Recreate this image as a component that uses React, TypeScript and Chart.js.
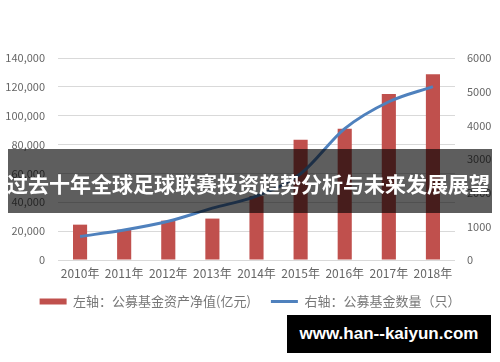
import React, { useEffect, useRef } from "react";
import { Chart, registerables } from "chart.js";

Chart.register(...registerables);

const categories = ["2010年", "2011年", "2012年", "2013年", "2014年", "2015年", "2016年", "2017年", "2018年"];
const assetValues = [24500, 21000, 27300, 28700, 44300, 83300, 91000, 115000, 128800];
const fundCounts = [700, 890, 1150, 1540, 1900, 2560, 3900, 4700, 5150];
const barLabel = "左轴：公募基金资产净值(亿元)";
const lineLabel = "右轴：公募基金数量（只）";
const bannerText = "过去十年全球足球联赛投资趋势分析与未来发展展望";
const watermarkText = "www.han--kaiyun.com";

const FONT = "'Noto Sans CJK SC', 'Noto Sans', sans-serif";

export default function App() {
  const ref = useRef<HTMLCanvasElement | null>(null);

  useEffect(() => {
    if (!ref.current) return;
    const chart = new Chart(ref.current, {
      type: "bar",
      data: {
        labels: categories,
        datasets: [
          {
            type: "bar",
            label: barLabel,
            data: assetValues,
            backgroundColor: "#C0504D",
            borderWidth: 0,
            yAxisID: "y",
            order: 1,
            barPercentage: 0.32,
            categoryPercentage: 1,
          },
          {
            type: "line",
            label: lineLabel,
            data: fundCounts,
            borderColor: "#4F81BD",
            backgroundColor: "#4F81BD",
            borderWidth: 3,
            pointRadius: 0,
            tension: 0.4,
            cubicInterpolationMode: "monotone",
            yAxisID: "y1",
            order: 0,
          } as any,
        ],
      },
      options: {
        responsive: false,
        animation: false,
        devicePixelRatio: 1,
        layout: { padding: { top: 58, left: 0, right: 0, bottom: 44 } },
        scales: {
          x: {
            grid: { display: false, drawTicks: false },
            border: { display: false },
            ticks: { color: "#666", font: { family: FONT, size: 12 }, padding: 6, maxRotation: 0 },
            afterFit: (s: any) => {
              s.height = 15;
              s._computeLabelArea = () => undefined;
            },
          },
          y: {
            position: "left",
            min: 0,
            max: 140000,
            grid: { color: "#d9d9d9", lineWidth: 1, drawTicks: false },
            border: { display: false },
            ticks: {
              stepSize: 20000,
              color: "#666",
              font: { family: FONT, size: 11 },
              padding: 13,
              callback: (v: any) => Number(v).toLocaleString("en-US"),
            },
            afterFit: (s: any) => { s.width = 58; },
          },
          y1: {
            position: "right",
            min: 0,
            max: 6000,
            grid: { display: false, drawTicks: false },
            border: { display: false },
            ticks: {
              stepSize: 1000,
              color: "#666",
              font: { family: FONT, size: 11 },
              padding: 12,
              callback: (v: any) => String(v),
            },
            afterFit: (s: any) => { s.width = 45; },
          },
        },
        plugins: {
          title: { display: false },
          tooltip: { enabled: false },
          legend: {
            position: "bottom",
            labels: {
              usePointStyle: true,
              pointStyleWidth: 27,
              boxHeight: 6,
              padding: 20,
              color: "#777",
              font: { family: FONT, size: 13 },
              generateLabels: (c: any) => {
                const items = Chart.defaults.plugins.legend.labels.generateLabels(c);
                items.sort((a: any, b: any) => a.datasetIndex - b.datasetIndex);
                return items.map((it: any) => {
                  if (it.datasetIndex === 0) {
                    return { ...it, pointStyle: "rect", lineWidth: 0, fillStyle: "#C0504D", strokeStyle: "#C0504D" };
                  }
                  return { ...it, pointStyle: "line", lineWidth: 3, strokeStyle: "#4F81BD", fillStyle: "#4F81BD" };
                });
              },
            },
          },
        },
      } as any,
    });
    return () => chart.destroy();
  }, []);

  return (
    <div style={{ position: "absolute", left: 0, top: 0, width: 500, height: 362, background: "#fff", overflow: "hidden" }}>
      <canvas ref={ref} width={500} height={362} style={{ position: "absolute", left: 0, top: 0, width: 500, height: 362 }} />
      <div
        style={{
          position: "absolute",
          left: 8,
          top: 149,
          width: 484,
          height: 64,
          background: "rgba(0,0,0,0.63)",
          color: "#fff",
          fontFamily: FONT,
          fontWeight: 700,
          fontSize: 21,
          lineHeight: "68px",
          whiteSpace: "nowrap",
          overflow: "visible",
          textIndent: -1,
        }}
      >
        {bannerText}
      </div>
      <div
        style={{
          position: "absolute",
          left: 287,
          top: 315,
          width: 204,
          height: 38,
          background: "#000",
          color: "#fff",
          fontFamily: "'Liberation Sans', Arial, sans-serif",
          fontWeight: 700,
          fontSize: 17,
          lineHeight: "38px",
          textAlign: "center",
          whiteSpace: "nowrap",
        }}
      >
        {watermarkText}
      </div>
    </div>
  );
}
